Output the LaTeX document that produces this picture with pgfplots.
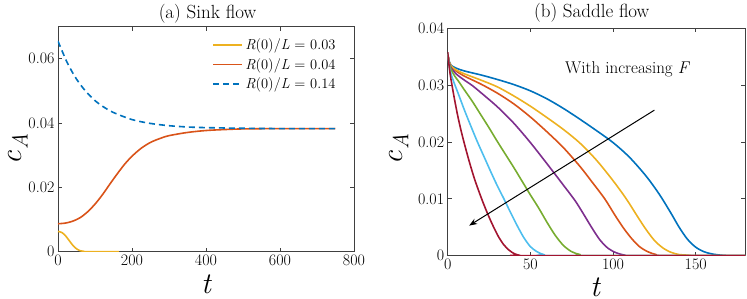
\documentclass[border=0pt]{standalone}
\usepackage{pgfplots}
\pgfplotsset{compat=1.18}
\usetikzlibrary{arrows.meta}
\definecolor{mblue}{rgb}{0,0.4470,0.7410}
\definecolor{morange}{rgb}{0.8500,0.3250,0.0980}
\definecolor{myellow}{rgb}{0.9290,0.6940,0.1250}
\definecolor{mpurple}{rgb}{0.4940,0.1840,0.5560}
\definecolor{mgreen}{rgb}{0.4660,0.6740,0.1880}
\definecolor{mlblue}{rgb}{0.3010,0.7450,0.9330}
\definecolor{mred}{rgb}{0.6350,0.0780,0.1840}
\newcommand{\cA}{\textit{c}\kern0.03em\raisebox{-0.2em}{\fontsize{22}{24}\selectfont\textit{A}}}
\newcommand{\RL}[1]{\textit{R}(0)/\textit{L} = #1}
\pgfplotsset{
  myaxis/.style={
    scale only axis, anchor=south west,
    /pgf/number format/assume math mode=true,
    axis line style={draw=black!75,line width=0.8pt},
    major tick style={draw=black!75,line width=0.8pt},
    major tick length=4pt, tick align=inside,
    tick label style={font=\fontsize{16}{19}\selectfont},
    every axis plot/.append style={line width=1.6pt, smooth, tension=0.5},
    title style={font=\fontsize{19}{22}\selectfont, anchor=base, yshift=-8.5pt},
    xlabel style={font=\fontsize{30}{34}\selectfont, anchor=base, inner sep=0pt},
    ylabel style={font=\fontsize{30}{34}\selectfont, anchor=base, rotate=0, inner sep=0pt},
    scaled y ticks=false, scaled x ticks=false,
    legend image code/.code={\draw[##1,line width=1.6pt] (0pt,0pt) -- (29pt,0pt);},
  }
}
\begin{document}
\begin{tikzpicture}
\useasboundingbox (0,0) rectangle (747pt,299pt);
% (a) Sink flow
\begin{axis}[myaxis,
  at={(58pt,47.3pt)}, width=296pt, height=225pt,
  xmin=0, xmax=800, ymin=0, ymax=0.07,
  xtick={0,200,400,600,800}, xticklabels={0,200,400,600,800},
  ytick={0,0.02,0.04,0.06}, yticklabels={0,0.02,0.04,0.06},
  title={(a) Sink flow}, title style={at={(axis description cs:0.505,1.0476)}},
  xlabel={\textit{t}}, xlabel style={at={(axis description cs:0.502,-0.186)}},
  ylabel={\cA}, ylabel style={at={(axis description cs:-0.1226,0.456)}},
  legend style={at={(axis description cs:0.945,0.955)}, anchor=north east,
    draw=none, fill=none, inner sep=0pt, row sep=3pt,
    font=\fontsize{14.5}{17}\selectfont},
  legend cell align=left,
]
\addplot[myellow] coordinates {(0,0.0063)(10,0.0060)(20,0.0050)(30,0.0035)(40,0.0020)(50,0.0009)(60,0.0003)(70,0.0001)(80,0)(165,0)};
\addlegendentry{\RL{0.03}}
\addplot[morange] coordinates {(0,0.0087)(20,0.0089)(40,0.0095)(60,0.0106)(80,0.0124)(100,0.0148)(120,0.0177)(140,0.0210)(160,0.0242)(180,0.0272)(200,0.0297)(225,0.0322)(250,0.0340)(275,0.0352)(300,0.0361)(350,0.0371)(400,0.0377)(450,0.0380)(500,0.0382)(600,0.0383)(750,0.0383)};
\addlegendentry{\RL{0.04}}
\addplot[mblue, dash pattern=on 6pt off 4pt] coordinates {(0,0.0655)(25,0.0588)(50,0.0537)(75,0.0499)(100,0.0470)(125,0.0449)(150,0.0433)(200,0.0411)(250,0.0399)(300,0.0392)(350,0.0388)(400,0.0386)(500,0.0384)(600,0.0383)(750,0.0383)};
\addlegendentry{\RL{0.14}}
\end{axis}
% (b) Saddle flow
\begin{axis}[myaxis,
  at={(447.7pt,43.3pt)}, width=297.6pt, height=227.4pt,
  xmin=0, xmax=180, ymin=0, ymax=0.04,
  xtick={0,50,100,150}, xticklabels={0,50,100,150},
  ytick={0,0.01,0.02,0.03,0.04}, yticklabels={0,0.01,0.02,0.03,0.04},
  title={(b) Saddle flow}, title style={at={(axis description cs:0.484,1.0585)}},
  xlabel={\textit{t}}, xlabel style={at={(axis description cs:0.497,-0.178)}},
  ylabel={\cA}, ylabel style={at={(axis description cs:-0.1526,0.468)}},
]
\addplot[mblue] coordinates {(0,0.0355)(1,0.0341)(2,0.0335)(5,0.0330)(10,0.0325)(20,0.0318)(30,0.0310)(40,0.0301)(50,0.0290)(60,0.0276)(70,0.0259)(80,0.0240)(90,0.0220)(100,0.0199)(110,0.0173)(120,0.0140)(128,0.0108)(135,0.0075)(140,0.0050)(145,0.0029)(150,0.0015)(155,0.0007)(160,0.0003)(165,0.0001)(170,0)(180,0)};
\addplot[morange] coordinates {(0,0.0355)(1,0.0339)(2,0.0333)(5,0.0325)(10,0.0316)(20,0.0302)(30,0.0286)(40,0.0267)(50,0.0244)(60,0.0218)(70,0.0190)(80,0.0157)(88,0.0127)(95,0.0100)(101,0.0072)(106,0.0050)(111,0.0031)(116,0.0016)(121,0.0007)(126,0.0002)(131,0)(180,0)};
\addplot[myellow] coordinates {(0,0.0355)(1,0.0340)(2,0.0334)(5,0.0327)(10,0.0320)(20,0.0309)(30,0.0297)(40,0.0281)(50,0.0263)(60,0.0243)(70,0.0222)(80,0.0198)(90,0.0168)(100,0.0132)(108,0.0100)(115,0.0068)(120,0.0046)(125,0.0027)(130,0.0014)(135,0.0006)(140,0.0002)(145,0.0001)(150,0)(180,0)};
\addplot[mpurple] coordinates {(0,0.0355)(1,0.0338)(2,0.0331)(5,0.0320)(10,0.0309)(15,0.0299)(20,0.0287)(30,0.0262)(40,0.0233)(50,0.0199)(60,0.0162)(70,0.0124)(77,0.0097)(82,0.0074)(87,0.0050)(92,0.0028)(97,0.0013)(102,0.0005)(107,0.0001)(112,0)(180,0)};
\addplot[mgreen] coordinates {(0,0.0355)(1,0.0336)(2,0.0328)(4,0.0317)(7,0.0305)(10,0.0292)(15,0.0271)(20,0.0248)(25,0.0225)(30,0.0201)(35,0.0178)(40,0.0155)(45,0.0131)(50,0.0107)(55,0.0084)(60,0.0059)(65,0.0036)(70,0.0018)(75,0.0007)(80,0.0002)(85,0)(180,0)};
\addplot[mlblue] coordinates {(0,0.0355)(1,0.0333)(2,0.0320)(4,0.0303)(6,0.0288)(10,0.0257)(14,0.0228)(18,0.0200)(22,0.0174)(26,0.0148)(30,0.0123)(34,0.0100)(38,0.0076)(42,0.0053)(46,0.0032)(50,0.0016)(54,0.0007)(58,0.0002)(63,0)(180,0)};
\addplot[mred] coordinates {(0,0.0358)(1,0.0330)(2,0.0310)(4,0.0277)(6,0.0247)(8,0.0221)(10,0.0198)(13,0.0166)(16,0.0137)(19,0.0112)(22,0.0089)(25,0.0068)(28,0.0049)(31,0.0032)(34,0.0019)(37,0.0010)(40,0.0004)(43,0.0001)(47,0)(180,0)};
\addplot[black, line width=1pt, sharp plot, -{Stealth[length=8pt,width=6pt]}] coordinates {(125,0.0256)(13,0.0053)};
\node[font=\fontsize{17}{20}\selectfont] at (axis cs:108.8,0.0327) {With increasing \textit{F}};
\end{axis}
\end{tikzpicture}
\end{document}
